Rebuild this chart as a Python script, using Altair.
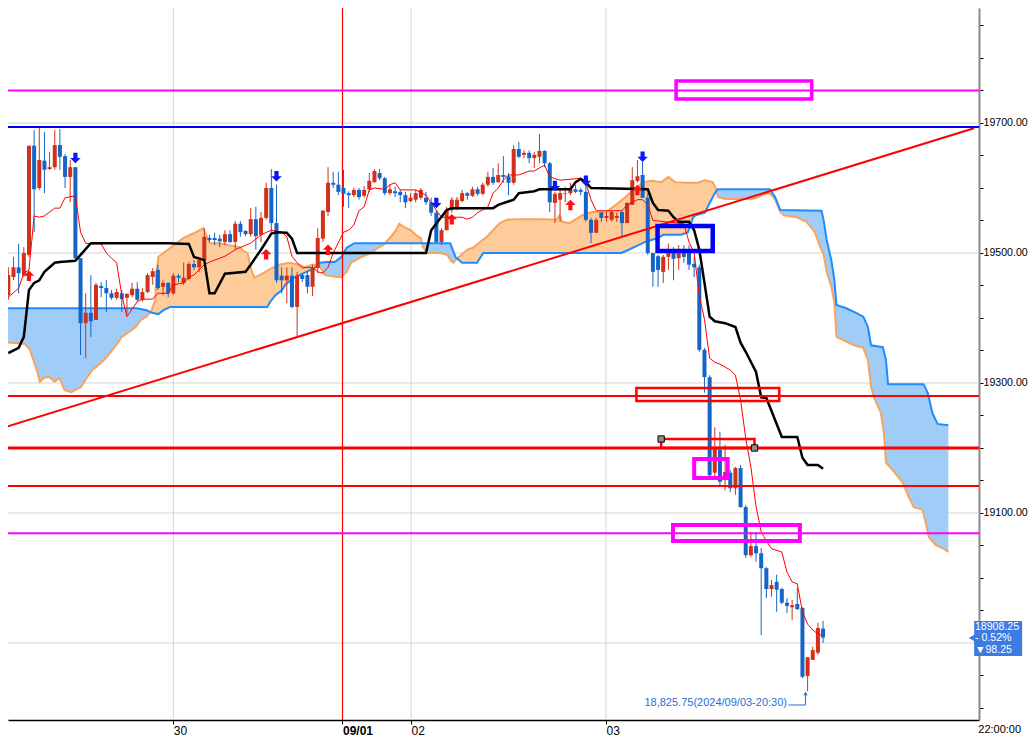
import altair as alt
import numpy as np
import pandas as pd

# ---------------- candles (30-minute bars) ----------------
opens = [19435, 19463, 19478, 19466, 19497, 19665, 19600, 19642, 19629, 19632,
         19666, 19649, 19617, 19632, 19492, 19392, 19408, 19397, 19449, 19446,
         19438, 19431, 19438, 19431, 19435, 19445, 19428, 19440, 19463, 19474,
         19448, 19454, 19438, 19465, 19454, 19460, 19483, 19478, 19489, 19523,
         19523, 19522, 19517, 19529, 19517, 19545, 19534, 19529, 19552, 19528,
         19554, 19600, 19546, 19465, 19458, 19465, 19417, 19466, 19466, 19448,
         19477, 19522, 19563, 19608, 19605, 19600, 19592, 19589, 19597, 19588,
         19598, 19609, 19623, 19615, 19592, 19595, 19594, 19589, 19580, 19582,
         19585, 19585, 19578, 19562, 19517, 19535, 19566, 19569, 19580, 19592,
         19588, 19598, 19591, 19605, 19617, 19609, 19620, 19618, 19608, 19660,
         19651, 19654, 19646, 19648, 19657, 19638, 19577, 19582, 19591, 19592,
         19598, 19597, 19594, 19551, 19531, 19562, 19554, 19551, 19554, 19563,
         19546, 19574, 19611, 19620, 19585, 19500, 19495, 19471, 19494, 19500,
         19492, 19500, 19500, 19483, 19478, 19351, 19309, 19162, 19197, 19151,
         19162, 19138, 19169, 19109, 19035, 19049, 19038, 19015, 18983, 18994,
         18983, 18962, 18955, 18960, 18954, 18849, 18874, 18885, 18922]
highs = [19478, 19494, 19514, 19509, 19665, 19689, 19694, 19686, 19655, 19689,
         19691, 19652, 19643, 19632, 19492, 19438, 19466, 19454, 19455, 19458,
         19443, 19445, 19443, 19438, 19454, 19455, 19446, 19469, 19477, 19482,
         19458, 19455, 19469, 19468, 19485, 19486, 19489, 19494, 19538, 19528,
         19531, 19528, 19535, 19535, 19549, 19549, 19535, 19569, 19571, 19563,
         19608, 19629, 19605, 19478, 19478, 19478, 19471, 19469, 19472, 19482,
         19538, 19566, 19632, 19625, 19625, 19628, 19595, 19600, 19600, 19603,
         19623, 19629, 19629, 19617, 19605, 19602, 19597, 19594, 19592, 19597,
         19600, 19594, 19585, 19566, 19538, 19571, 19586, 19586, 19597, 19594,
         19602, 19602, 19608, 19625, 19631, 19638, 19649, 19623, 19666, 19671,
         19658, 19658, 19655, 19683, 19658, 19640, 19594, 19597, 19602, 19608,
         19605, 19600, 19612, 19554, 19554, 19563, 19563, 19566, 19562, 19566,
         19578, 19632, 19643, 19640, 19592, 19500, 19497, 19497, 19515, 19509,
         19512, 19512, 19512, 19494, 19482, 19354, 19312, 19232, 19225, 19205,
         19166, 19171, 19174, 19112, 19071, 19071, 19046, 19017, 18997, 19005,
         18985, 18969, 18966, 18985, 18955, 18878, 18894, 18931, 18934]
lows = [19428, 19458, 19438, 19463, 19494, 19532, 19597, 19592, 19628, 19628,
        19628, 19600, 19578, 19489, 19343, 19338, 19371, 19397, 19432, 19409,
        19428, 19428, 19409, 19405, 19432, 19425, 19425, 19438, 19451, 19443,
        19435, 19432, 19435, 19455, 19451, 19458, 19474, 19471, 19486, 19517,
        19512, 19509, 19512, 19515, 19505, 19525, 19526, 19525, 19505, 19517,
        19551, 19532, 19454, 19438, 19423, 19415, 19371, 19455, 19438, 19434,
        19469, 19517, 19557, 19600, 19589, 19571, 19569, 19586, 19582, 19585,
        19594, 19608, 19612, 19589, 19589, 19586, 19578, 19569, 19578, 19578,
        19582, 19574, 19557, 19515, 19512, 19535, 19562, 19566, 19578, 19582,
        19586, 19588, 19589, 19602, 19605, 19608, 19608, 19589, 19605, 19646,
        19646, 19638, 19631, 19638, 19632, 19563, 19546, 19548, 19578, 19589,
        19592, 19589, 19548, 19515, 19531, 19548, 19548, 19548, 19548, 19525,
        19546, 19574, 19608, 19585, 19497, 19448, 19448, 19454, 19474, 19458,
        19474, 19485, 19474, 19463, 19348, 19285, 19155, 19155, 19143, 19135,
        19132, 19128, 19108, 19031, 19032, 19025, 18912, 18969, 18971, 18948,
        18960, 18946, 18935, 18951, 18846, 18825.75, 18874, 18882, 18900]
closes = [19466, 19478, 19469, 19500, 19665, 19598, 19643, 19628, 19632, 19666,
          19648, 19617, 19632, 19492, 19392, 19408, 19395, 19451, 19446, 19438,
          19431, 19440, 19429, 19437, 19445, 19428, 19440, 19466, 19472, 19446,
          19454, 19438, 19465, 19462, 19462, 19483, 19478, 19489, 19525, 19520,
          19520, 19518, 19529, 19517, 19545, 19532, 19529, 19552, 19526, 19554,
          19600, 19546, 19458, 19458, 19465, 19417, 19465, 19460, 19448, 19477,
          19523, 19565, 19608, 19605, 19594, 19591, 19589, 19597, 19586, 19597,
          19611, 19626, 19615, 19592, 19598, 19592, 19589, 19578, 19585, 19592,
          19597, 19578, 19562, 19517, 19535, 19566, 19582, 19582, 19592, 19588,
          19598, 19591, 19605, 19617, 19608, 19620, 19617, 19608, 19660, 19648,
          19654, 19646, 19651, 19657, 19638, 19578, 19591, 19592, 19592, 19598,
          19594, 19594, 19551, 19531, 19551, 19554, 19557, 19563, 19557, 19546,
          19577, 19612, 19618, 19585, 19500, 19471, 19474, 19494, 19500, 19491,
          19500, 19494, 19482, 19478, 19351, 19309, 19158, 19200, 19148, 19163,
          19138, 19169, 19109, 19035, 19049, 19038, 19015, 18983, 18989, 18982,
          18962, 18957, 18958, 18952, 18848, 18878, 18889, 18923, 18908.25]

# ---------------- Ichimoku lines (vertices: bar index, price) ----------------
tenkan_i = [0, 2, 3, 4, 5, 6, 7, 9, 10, 11, 13, 14, 15, 16, 18, 19, 20, 21, 22, 23,
            24, 25, 26, 28, 29, 31, 32, 34, 35, 36, 38, 39, 40, 42, 44, 46, 47, 49, 51, 53,
            54, 55, 56, 57, 59, 60, 61, 62, 63, 65, 66, 67, 68, 69, 70, 71, 73, 74, 75, 76,
            79, 81, 82, 83, 84, 88, 89, 90, 91, 93, 94, 95, 96, 97, 99, 100, 101, 102, 103, 104,
            105, 107, 111, 112, 113, 114, 119, 120, 122, 123, 124, 125, 131, 132, 133, 134, 135, 136, 137, 138,
            140, 141, 142, 143, 144, 145, 146, 147, 148, 150, 151, 152, 153, 154, 155, 156, 157, 158]
tenkan_p = [19432, 19446, 19469, 19474, 19557, 19555, 19557, 19569, 19569, 19585, 19588, 19532, 19515, 19514, 19514, 19500, 19492, 19485, 19435, 19402,
            19414, 19425, 19429, 19429, 19438, 19438, 19451, 19454, 19463, 19466, 19482, 19486, 19489, 19495, 19505, 19512, 19515, 19528, 19535, 19532,
            19525, 19495, 19485, 19477, 19478, 19471, 19469, 19478, 19500, 19532, 19535, 19543, 19565, 19571, 19597, 19600, 19598, 19605, 19608, 19597,
            19597, 19589, 19577, 19566, 19555, 19555, 19552, 19555, 19562, 19571, 19592, 19600, 19612, 19620, 19620, 19623, 19626, 19626, 19631, 19635,
            19617, 19612, 19615, 19608, 19582, 19565, 19565, 19574, 19582, 19582, 19574, 19550, 19545, 19517, 19500, 19434, 19398, 19338, 19332, 19329,
            19320, 19312, 19274, 19215, 19171, 19110, 19071, 19057, 19045, 19040, 19009, 18994, 18991, 18948, 18929, 18920, 18914, 18911]

kijun_i = [0, 2, 3, 4, 5, 6, 7, 9, 10, 13, 14, 16, 31, 35, 36, 38, 39, 40, 42, 46,
           47, 49, 51, 52, 54, 55, 56, 81, 82, 85, 86, 94, 95, 98, 99, 102, 103, 109, 110, 111,
           112, 113, 124, 125, 126, 128, 129, 130, 132, 133, 134, 135, 136, 137, 139, 141, 142, 143, 145, 146,
           147, 150, 153, 154, 155, 157, 158]
kijun_p = [19346, 19354, 19371, 19443, 19454, 19458, 19471, 19485, 19486, 19488, 19497, 19515, 19515, 19514, 19494, 19489, 19438, 19438, 19468, 19471,
           19482, 19505, 19530, 19532, 19531, 19522, 19500, 19500, 19535, 19566, 19569, 19569, 19574, 19582, 19592, 19595, 19598, 19598, 19609, 19614,
           19609, 19600, 19598, 19577, 19566, 19565, 19555, 19548, 19548, 19535, 19505, 19454, 19402, 19395, 19392, 19386, 19362, 19348, 19317, 19278,
           19277, 19217, 19217, 19185, 19174, 19174, 19168]

spanA_i = [-1, 3.2, 4.2, 5.7, 6.1, 7.0, 8.0, 9.0, 9.9, 10.9, 12.2, 14.1, 15.3, 16.3, 18.0, 19.1, 20.5, 21.4, 22.0, 23.7,
           24.7, 25.7, 26.8, 27.8, 28.5, 28.7, 29.1, 30.1, 31.4, 32.6, 33.9, 35.3, 36.4, 37.8, 38.1, 39.1, 41.0, 42.9, 44.9, 45.8,
           46.4, 47.0, 47.7, 48.7, 49.8, 51.2, 52.5, 54.5, 56.4, 57.5, 58.9, 60.2, 61.4, 63.7, 64.6, 65.6, 66.5, 68.5, 70.4, 71.7,
           72.7, 74.2, 75.2, 75.8, 76.7, 78.1, 79.0, 80.0, 80.4, 81.3, 83.8, 85.2, 85.7, 86.3, 87.1, 89.0, 90.1, 91.5, 92.8, 94.0,
           95.3, 96.7, 98.2, 103.6, 106.3, 106.9, 107.4, 108.8, 111.3, 113.2, 115.9, 117.8, 119.7, 121.6, 123.2, 124.7, 126.6, 128.0, 129.3, 131.2,
           133.7, 135.1, 136.6, 137.2, 137.6, 139.0, 143.9, 145.2, 146.2, 147.7, 148.7, 149.7, 150.4, 152.9, 154.8, 156.4, 157.3, 158.1, 158.7, 159.6,
           160.2, 160.6, 161.9, 164.0, 165.8, 166.7, 167.3, 167.9, 169.2, 169.8, 170.2, 171.5, 173.5, 174.6, 175.6, 177.3, 177.9, 178.5, 179.8, 181.1,
           182.3]
spanA_p = [19363, 19360, 19351, 19315, 19302, 19308, 19309, 19302, 19308, 19289, 19286, 19294, 19309, 19320, 19331, 19340, 19354, 19363, 19371, 19380,
           19386, 19397, 19402, 19412, 19428, 19469, 19494, 19500, 19508, 19515, 19523, 19528, 19532, 19538, 19532, 19515, 19515, 19512, 19509, 19502,
           19500, 19477, 19462, 19466, 19471, 19477, 19482, 19485, 19482, 19478, 19482, 19482, 19466, 19463, 19463, 19471, 19485, 19494, 19500, 19508,
           19512, 19525, 19535, 19545, 19540, 19535, 19528, 19523, 19509, 19500, 19500, 19497, 19489, 19485, 19492, 19505, 19508, 19517, 19525, 19535,
           19546, 19551, 19552, 19552, 19551, 19558, 19548, 19546, 19558, 19563, 19563, 19574, 19586, 19600, 19609, 19611, 19609, 19617, 19609, 19608,
           19608, 19612, 19609, 19600, 19586, 19583, 19583, 19585, 19589, 19592, 19582, 19563, 19558, 19555, 19548, 19532, 19512, 19498, 19471, 19448,
           19423, 19371, 19366, 19358, 19354, 19335, 19294, 19277, 19254, 19223, 19177, 19166, 19146, 19125, 19109, 19105, 19085, 19063, 19051, 19046,
           19040]

spanB_i = [-1, 24.9, 26.8, 27.8, 29.1, 30.1, 31.4, 50.2, 50.8, 51.8, 53.1, 53.7, 55.4, 57.3, 59.4, 60.4, 61.7, 63.3, 64.6, 65.6,
           67.1, 85.7, 86.7, 88.0, 90.9, 92.1, 118.9, 120.3, 122.2, 123.5, 124.7, 126.0, 127.0, 130.5, 131.8, 132.8, 133.3, 135.1, 136.0, 137.0,
           137.6, 147.7, 148.7, 149.7, 157.7, 158.1, 158.7, 159.6, 160.2, 160.6, 162.5, 164.4, 165.8, 166.7, 167.3, 169.6, 170.2, 170.6, 177.5, 178.3,
           179.2, 180.2, 182.3]
spanB_p = [19415, 19415, 19412, 19408, 19406, 19412, 19417, 19417, 19425, 19435, 19443, 19451, 19462, 19469, 19477, 19485, 19486, 19486, 19494, 19508,
           19515, 19515, 19494, 19485, 19485, 19500, 19500, 19505, 19512, 19517, 19520, 19523, 19528, 19528, 19532, 19555, 19558, 19562, 19577, 19592,
           19598, 19598, 19586, 19566, 19565, 19551, 19520, 19489, 19458, 19420, 19415, 19408, 19402, 19386, 19358, 19355, 19335, 19298, 19298, 19285,
           19254, 19237, 19235]

# ---------------- signals ----------------
sell_i = [13, 52, 83, 106, 112, 123]
sell_p = [19646, 19618, 19577, 19603, 19611, 19648]
buy_i = [4, 50, 62, 86, 109, 122]
buy_p = [19465, 19498, 19505, 19552, 19574, 19597]

# ---------------- drawing objects ----------------
hline_p = [19750, 19694, 19280, 19200, 19141.5, 19069]
hline_c = ["#ff00ff", "#0000ff", "#ff0000", "#ff0000", "#ff0000", "#ff00ff"]
hline_w = [2, 2, 2, 3, 2, 2]

trend_i = [-0.63, 187.27]
trend_p = [19232, 19692]

box_i1 = [129.5, 125.9, 121.8, 126.6, 133.0, 128.9]
box_i2 = [155.8, 136.6, 149.5, 144.7, 139.5, 153.5]
box_p1 = [19764.6, 19541.5, 19292.3, 19213.8, 19183, 19081.5]
box_p2 = [19736.9, 19503, 19272.3, 19200, 19154, 19057]
box_c = ["#ff00ff", "#0000ff", "#ff0000", "#ff0000", "#ff00ff", "#ff00ff"]
box_w = [3.5, 4.5, 2.5, 2.5, 4, 4]

handle_i = [126.6, 144.7]
handle_p = [19213.8, 19200]

day_ticks = [32.0, 64.8, 78.1, 115.9]
day_labels = ["30", "09/01", "02", "03"]
grid_prices = [18900, 19100, 19300, 19500, 19700]

low_text = "18,825.75(2024/09/03-20:30)"
last_lines = ["18908.25", "- 0.52%", "\u25bc98.25"]
time_label = "22:00:00"

# ---------------- layout constants ----------------
X0, X1 = 0.902, 187.27
Y0, Y1 = 18781.5, 19876.9
W, H = 971, 712
RED = "#d2301a"
BLUE = "#1565c8"
FONT = "Liberation Sans"

xsc = alt.Scale(domain=[X0, X1], nice=False, zero=False)
ysc = alt.Scale(domain=[Y0, Y1], nice=False, zero=False)

lab_expr = ("datum.value < 50 ? '" + day_labels[0] + "' : datum.value < 70 ? '" + day_labels[1]
            + "' : datum.value < 100 ? '" + day_labels[2] + "' : '" + day_labels[3] + "'")
x_axis = alt.Axis(values=day_ticks, labelExpr=lab_expr, title=None, grid=False,
                  labelAlign="left", labelFont=FONT, labelFontSize=12, labelColor="#000000",
                  labelFontWeight={"condition": {"test": "datum.value > 60 && datum.value < 70", "value": "bold"}, "value": "normal"},
                  domainColor="#000000", domainWidth=1.5, tickColor="#000000", tickSize=4,
                  labelPadding=1, labelFlush=False, labelOverlap=False)
y_vals = list(range(18800, 19900, 50))
y_axis = alt.Axis(orient="right", values=y_vals, title=None, grid=False,
                  labelExpr="(datum.value % 200 == 100 && datum.value > 19000) ? format(datum.value, '.2f') : ''",
                  labelFont=FONT, labelFontSize=10.6, labelColor="#000000", labelPadding=0,
                  domainColor="#8a8a8a", domainWidth=2, tickColor="#000000", tickSize=4,
                  labelOverlap=False, labelFlush=False)


def X(field):
    return alt.X(field, type="quantitative", scale=xsc, axis=x_axis)


def Y(field):
    return alt.Y(field, type="quantitative", scale=ysc, axis=y_axis)


# ---------------- data frames ----------------
n = len(opens)
cdf = pd.DataFrame({"i": np.arange(n), "open": opens, "high": highs, "low": lows, "close": closes})
cdf["dir"] = np.where(cdf["close"] >= cdf["open"], "up", "down")
col = alt.Color("dir:N", scale=alt.Scale(domain=["up", "down"], range=[RED, BLUE]), legend=None)

# cloud fill on a common grid
ax_, ay_ = np.array(spanA_i, float), np.array(spanA_p, float)
bx_, by_ = np.array(spanB_i, float), np.array(spanB_p, float)
grid = np.union1d(ax_, bx_)
ga = np.interp(grid, ax_, ay_)
gb = np.interp(grid, bx_, by_)
xs, As, Bs = [grid[0]], [ga[0]], [gb[0]]
for k in range(1, len(grid)):
    d0, d1 = ga[k - 1] - gb[k - 1], ga[k] - gb[k]
    if d0 * d1 < 0:
        t = d0 / (d0 - d1)
        xc = grid[k - 1] + t * (grid[k] - grid[k - 1])
        yc = ga[k - 1] + t * (ga[k] - ga[k - 1])
        xs.append(xc); As.append(yc); Bs.append(yc)
    xs.append(grid[k]); As.append(ga[k]); Bs.append(gb[k])
cloud = pd.DataFrame({"i": xs, "a": As, "b": Bs})
cloud["lo"] = np.minimum(cloud["a"], cloud["b"])

layers = []

# gridlines
layers.append(alt.Chart(pd.DataFrame({"p": grid_prices})).mark_rule(color="#d4d4d4", strokeWidth=1, clip=True)
              .encode(y=Y("p")))
layers.append(alt.Chart(pd.DataFrame({"i": [day_ticks[0], day_ticks[2], day_ticks[3]]}))
              .mark_rule(color="#d4d4d4", strokeWidth=1, clip=True).encode(x=X("i")))

# cloud
layers.append(alt.Chart(cloud).mark_area(color="#fdcc9a", clip=True, interpolate="linear")
              .encode(x=X("i"), y=Y("a"), y2="lo"))
layers.append(alt.Chart(cloud).mark_area(color="#9fcdf8", clip=True, interpolate="linear")
              .encode(x=X("i"), y=Y("b"), y2="lo"))
layers.append(alt.Chart(pd.DataFrame({"i": spanA_i, "p": spanA_p})).mark_line(color="#f8a45c", strokeWidth=2, clip=True)
              .encode(x=X("i"), y=Y("p")))
layers.append(alt.Chart(pd.DataFrame({"i": spanB_i, "p": spanB_p})).mark_line(color="#1e8cff", strokeWidth=2, clip=True)
              .encode(x=X("i"), y=Y("p")))

# 09/01 session separator
layers.append(alt.Chart(pd.DataFrame({"i": [day_ticks[1]]}))
              .mark_rule(stroke="#ff0000", color="#ff0000", strokeWidth=1.2, opacity=1, clip=True).encode(x=X("i")))

# candles
layers.append(alt.Chart(cdf).mark_rule(strokeWidth=1, clip=True)
              .encode(x=X("i"), y=Y("low"), y2="high", color=col))
layers.append(alt.Chart(cdf).mark_bar(size=4, clip=True)
              .encode(x=X("i"), y=Y("open"), y2="close", color=col))

# tenkan / kijun
layers.append(alt.Chart(pd.DataFrame({"i": tenkan_i, "p": tenkan_p})).mark_line(color="#ff0000", strokeWidth=1, clip=True)
              .encode(x=X("i"), y=Y("p")))
layers.append(alt.Chart(pd.DataFrame({"i": kijun_i, "p": kijun_p})).mark_line(color="#000000", strokeWidth=2.5, clip=True)
              .encode(x=X("i"), y=Y("p")))

# trend line and horizontal lines
layers.append(alt.Chart(pd.DataFrame({"i": trend_i, "p": trend_p})).mark_line(color="#ff0000", strokeWidth=2, clip=True)
              .encode(x=X("i"), y=Y("p")))
layers.append(alt.Chart(pd.DataFrame({"p": hline_p, "c": hline_c, "w": hline_w})).mark_rule(clip=True)
              .encode(y=Y("p"), color=alt.Color("c:N", scale=None), strokeWidth=alt.StrokeWidth("w:Q", scale=None)))

# boxes
bdf = pd.DataFrame({"i1": box_i1, "i2": box_i2, "p1": box_p1, "p2": box_p2, "c": box_c, "w": box_w})
layers.append(alt.Chart(bdf).mark_rect(fillOpacity=0, clip=True)
              .encode(x=X("i1"), x2="i2", y=Y("p1"), y2="p2",
                      stroke=alt.Stroke("c:N", scale=None), strokeWidth=alt.StrokeWidth("w:Q", scale=None)))
layers.append(alt.Chart(pd.DataFrame({"i": handle_i, "p": handle_p})).mark_square(size=40, color="#8c8c8c", opacity=1,
              stroke="#000000", strokeWidth=1, filled=True, clip=True)
              .encode(x=X("i"), y=Y("p")))

# signal arrows
UP = "M0,-1 L1,0 L0.4,0 L0.4,1 L-0.4,1 L-0.4,0 L-1,0 Z"
DOWN = "M0,1 L1,0 L0.4,0 L0.4,-1 L-0.4,-1 L-0.4,0 L-1,0 Z"
layers.append(alt.Chart(pd.DataFrame({"i": sell_i, "p": sell_p})).mark_point(shape=DOWN, size=110, filled=True,
              color="#0a14ff", opacity=1, clip=True).encode(x=X("i"), y=Y("p")))
layers.append(alt.Chart(pd.DataFrame({"i": buy_i, "p": buy_p})).mark_point(shape=UP, size=110, filled=True,
              color="#ff1010", opacity=1, clip=True).encode(x=X("i"), y=Y("p")))

# low annotation
layers.append(alt.Chart(pd.DataFrame({"i": [151.0], "p": [18807.7], "t": [low_text]}))
              .mark_text(align="right", baseline="middle", font=FONT, fontSize=11, color="#1f6fd6", clip=False)
              .encode(x=X("i"), y=Y("p"), text="t:N"))
layers.append(alt.Chart(pd.DataFrame({"i": [151.3, 154.6, 154.6], "p": [18804.6, 18804.6, 18822], "o": [0, 1, 2]}))
              .mark_line(color="#1f6fd6", strokeWidth=1, clip=False)
              .encode(x=X("i"), y=Y("p"), order="o:Q"))
layers.append(alt.Chart(pd.DataFrame({"i": [154.6], "p": [18822.5]}))
              .mark_point(shape="triangle-up", size=18, filled=True, color="#1f6fd6", opacity=1, clip=False)
              .encode(x=X("i"), y=Y("p")))

# last price box on the price axis
layers.append(alt.Chart(pd.DataFrame({"i1": [187.3], "i2": [196.6], "p1": [18933.8], "p2": [18880]}))
              .mark_rect(color="#3d7ae2", clip=False)
              .encode(x=X("i1"), x2="i2", y=Y("p1"), y2="p2"))
layers.append(alt.Chart(pd.DataFrame({"i": [186.9], "p": [18907.7]}))
              .mark_point(shape="triangle-left", size=60, filled=True, color="#3d7ae2", opacity=1, clip=False)
              .encode(x=X("i"), y=Y("p")))
layers.append(alt.Chart(pd.DataFrame({"i": [187.45] * 3, "p": [18925, 18907.7, 18889.5], "t": last_lines}))
              .mark_text(align="left", baseline="middle", font=FONT, fontSize=10.6, color="#ffffff", clip=False)
              .encode(x=X("i"), y=Y("p"), text="t:N"))
layers.append(alt.Chart(pd.DataFrame({"i": [188.1], "p": [18766.5], "t": [time_label]}))
              .mark_text(align="left", baseline="middle", font=FONT, fontSize=11, color="#000000", clip=False)
              .encode(x=X("i"), y=Y("p"), text="t:N"))

chart = alt.layer(*layers).properties(
    width=W, height=H, autosize=alt.AutoSizeParams(type="none"),
    padding={"left": 0, "top": 0, "right": 49, "bottom": 18}, background="#ffffff"
).configure_view(stroke=None)

chart.save("out.html", embed_options={"renderer": "svg", "actions": False})
